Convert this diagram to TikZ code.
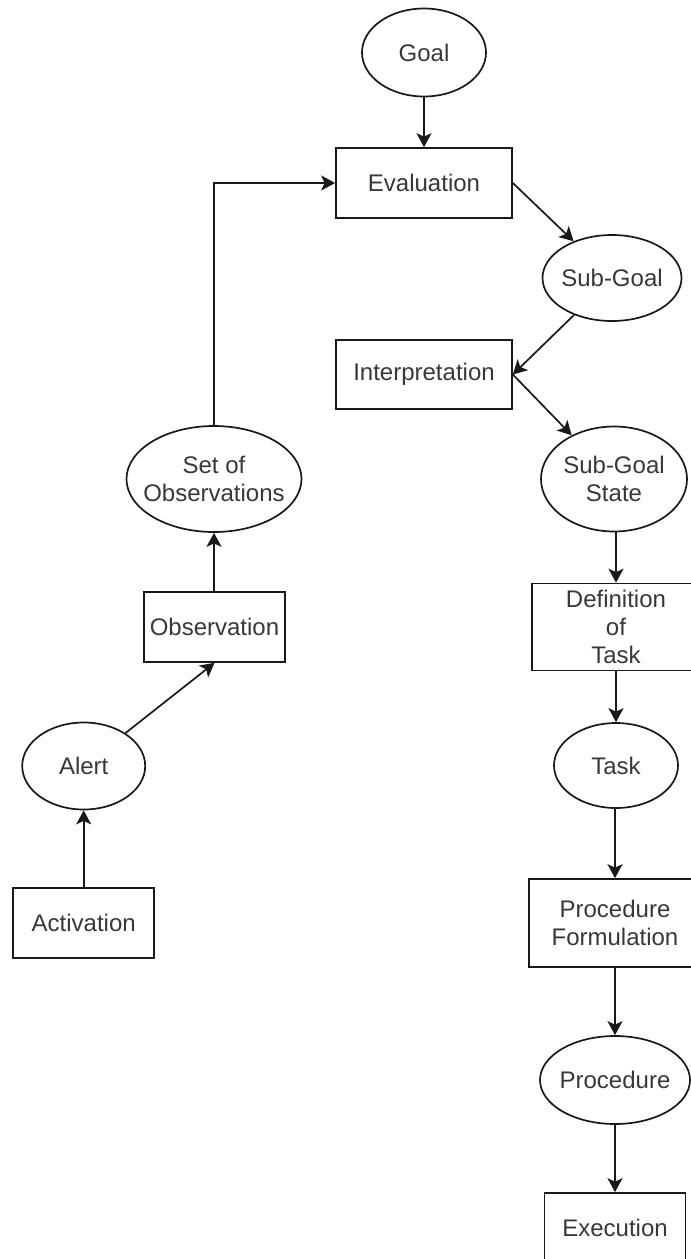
\documentclass[tikz,border=0pt]{standalone}
\usepackage{fontspec}
\setmainfont{Liberation Sans}
\usetikzlibrary{shapes.geometric,arrows.meta}

\colorlet{linec}{black!90}
\colorlet{txtc}{black!78}

\tikzset{
  boxnode/.style={draw=linec, line width=1.7pt, rectangle, inner sep=0pt,
    align=center, text=txtc, font=\fontsize{24}{27.6}\selectfont},
  oval/.style={draw=linec, line width=1.7pt, ellipse, inner sep=0pt},
  ovaltext/.style={align=center, text=txtc, inner sep=0pt,
    font=\fontsize{24}{27.6}\selectfont},
  link/.style={draw=linec, line width=1.7pt,
    -{Stealth[length=14pt,width=15pt,inset=3.5pt]}},
}

\begin{document}
\begin{tikzpicture}[x=1pt,y=-1pt]
  \useasboundingbox (0,0) rectangle (691,1259);
  \fill[white] (0,0) rectangle (691,1259);
  \clip (0,0) rectangle (691,1259);

  % right-hand chain
  \node[oval, minimum width=124pt, minimum height=88pt,
        label={[ovaltext]center:Goal}] (goal) at (424,52.5) {};
  \node[boxnode, minimum width=176pt, minimum height=70pt] (eval) at (424,183) {Evaluation};
  \node[oval, minimum width=139pt, minimum height=86pt,
        label={[ovaltext]center:Sub-Goal}] (subgoal) at (612,278) {};
  \node[boxnode, minimum width=176pt, minimum height=69pt] (interp) at (424,374.5) {Interpretation};
  \node[oval, minimum width=146pt, minimum height=105pt,
        label={[ovaltext]center:Sub-Goal\\State}] (sgs) at (614,479) {};
  \node[boxnode, minimum width=168pt, minimum height=87pt] (deftask) at (616,627) {Definition\\of\\Task};
  \node[oval, minimum width=124pt, minimum height=85pt,
        label={[ovaltext]center:Task}] (task) at (616,765.5) {};
  \node[boxnode, minimum width=172pt, minimum height=88pt] (pf) at (615,923) {Procedure\\Formulation};
  \node[oval, minimum width=150pt, minimum height=88pt,
        label={[ovaltext]center:Procedure}] (proc) at (615,1080) {};
  \node[boxnode, minimum width=141pt, minimum height=70pt] (exec) at (615,1228) {};
  \node[ovaltext] (exectext) at (615,1228) {Execution};

  % left-hand chain
  \node[oval, minimum width=175pt, minimum height=106pt,
        label={[ovaltext]center:Set of\\Observations}] (setobs) at (214,479) {};
  \node[boxnode, minimum width=141pt, minimum height=70pt] (obs) at (214.5,627) {Observation};
  \node[oval, minimum width=123pt, minimum height=87pt,
        label={[ovaltext]center:Alert}] (alert) at (83.7,766) {};
  \node[boxnode, minimum width=141pt, minimum height=70pt] (activ) at (83.7,923) {Activation};

  % connectors
  \draw[link] (goal) -- (eval);
  \draw[link] (eval.east) -- (subgoal);
  \draw[link] (subgoal) -- (interp.east);
  \draw[link] (interp.east) -- (sgs);
  \draw[link] (sgs.south -| deftask.north) -- (deftask.north);
  \draw[link] (deftask) -- (task);
  \draw[link] (task.south -| pf.north) -- (pf.north);
  \draw[link] (pf) -- (proc);
  \draw[link] (proc) -- (exec.north);

  \draw[link] (activ) -- (alert);
  \draw[link] (alert) -- (obs.south);
  \draw[link] (obs.north -| setobs.south) -- (setobs.south);
  \draw[link] (setobs.north) |- (eval.west);
\end{tikzpicture}
\end{document}
